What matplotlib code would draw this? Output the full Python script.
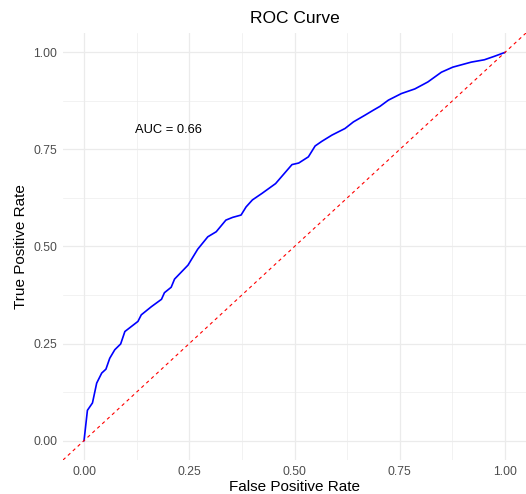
import numpy as np
import matplotlib.pyplot as plt
from matplotlib.ticker import MultipleLocator

plt.rcParams['font.family'] = ['Liberation Sans', 'DejaVu Sans']

# ROC curve points
fpr = [0.000, 0.008, 0.020, 0.030, 0.042, 0.052, 0.061, 0.073, 0.087, 0.097,
       0.128, 0.136, 0.160, 0.184, 0.191, 0.207, 0.215, 0.247, 0.270, 0.294,
       0.314, 0.337, 0.353, 0.373, 0.385, 0.400, 0.423, 0.455, 0.494, 0.510,
       0.533, 0.549, 0.565, 0.589, 0.620, 0.640, 0.667, 0.687, 0.703, 0.723,
       0.754, 0.786, 0.805, 0.817, 0.849, 0.876, 0.920, 0.951, 0.975, 1.000]
tpr = [0.000, 0.078, 0.097, 0.148, 0.174, 0.184, 0.212, 0.234, 0.249, 0.281,
       0.307, 0.324, 0.345, 0.364, 0.381, 0.395, 0.416, 0.452, 0.493, 0.525,
       0.538, 0.568, 0.575, 0.581, 0.602, 0.620, 0.637, 0.662, 0.711, 0.715,
       0.731, 0.759, 0.771, 0.787, 0.804, 0.821, 0.838, 0.851, 0.861, 0.877,
       0.894, 0.906, 0.917, 0.924, 0.949, 0.962, 0.975, 0.981, 0.990, 1.000]
auc = 0.66
ticks = [0.0, 0.25, 0.5, 0.75, 1.0]
tick_labels = ["0.00", "0.25", "0.50", "0.75", "1.00"]

fig = plt.figure(figsize=(5.26, 4.94), dpi=100)
ax = fig.add_axes([63 / 526, 34 / 494, 463 / 526, 427 / 494])

ax.set_xlim(-0.05, 1.05)
ax.set_ylim(-0.05, 1.05)

# theme_minimal style grid
ax.set_xticks(ticks)
ax.set_yticks(ticks)
ax.set_xticklabels(tick_labels)
ax.set_yticklabels(tick_labels)
ax.xaxis.set_minor_locator(MultipleLocator(0.125))
ax.yaxis.set_minor_locator(MultipleLocator(0.125))
ax.grid(which='major', color='#ebebeb', linewidth=0.9)
ax.grid(which='minor', color='#ebebeb', linewidth=0.45)
ax.set_axisbelow(True)
for s in ax.spines.values():
    s.set_visible(False)
ax.tick_params(which='both', length=0, labelsize=8.8, labelcolor='#4d4d4d', pad=4)

ax.plot(fpr, tpr, color='blue', linewidth=1.2)
ax.axline((0, 0), (1, 1), color='red', linestyle=(0, (3, 3)), linewidth=0.8)
ax.text(0.2, 0.8, f"AUC = {auc:.2f}", ha='center', va='center', fontsize=9.3, color='black')

ax.set_title("ROC Curve", fontsize=12.5, pad=7)
ax.set_xlabel("False Positive Rate", fontsize=11, labelpad=2)
ax.set_ylabel("True Positive Rate", fontsize=11, labelpad=4)

fig.savefig("out.png", dpi=100)
